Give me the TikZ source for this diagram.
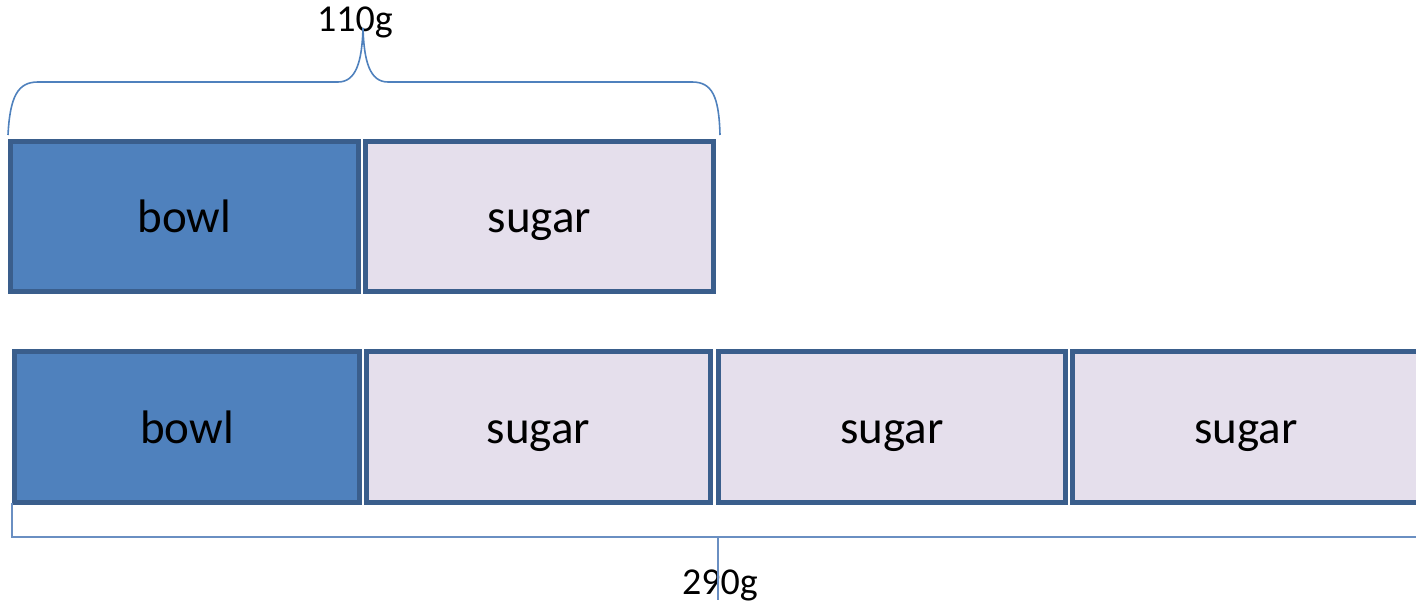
\documentclass[tikz,border=0pt]{standalone}
\usepackage{fontspec}
\setmainfont{Carlito}
\definecolor{edgeblue}{HTML}{3A5E8C}
\definecolor{bowlblue}{HTML}{4F81BD}
\definecolor{sugarlav}{HTML}{E5DFEC}
\definecolor{bracketblue}{HTML}{6A8FC2}
\tikzset{
  part/.style={draw=edgeblue, line width=5pt, inner sep=0pt, outer sep=0pt,
    minimum height=#1, text height=35pt, text depth=2pt,
    font=\fontsize{47}{56}\selectfont},
  bowlpart/.style={part=#1, fill=bowlblue},
  sugarpart/.style={part=#1, fill=sugarlav},
  total/.style={font=\fontsize{38}{46}\selectfont, inner sep=0pt},
  bracebar/.style={draw=bowlblue, line width=1.6pt},
  basebar/.style={draw=bracketblue, line width=2.4pt},
}
\begin{document}
\begin{tikzpicture}[x=1pt, y=-1pt]
  \useasboundingbox (0,0) rectangle (1416,604);
  \clip (0,0) rectangle (1416,604);

  % first bar: bowl plus one sugar
  \node[bowlpart=150pt, minimum width=348pt] (b1) at (184.5,216.5) {bowl};
  \node[sugarpart=150pt, minimum width=348pt] (s1) at (539.5,216.5) {sugar};

  % second bar: bowl plus three sugars
  \node[bowlpart=151pt, minimum width=345pt] (b2) at (187,427) {bowl};
  \node[sugarpart=151pt, minimum width=344pt] (s2) at (538.5,427) {sugar};
  \node[sugarpart=151pt, minimum width=347pt] (s3) at (892,427) {sugar};
  \node[sugarpart=151pt, minimum width=347pt] (s4) at (1246,427) {sugar};

  % totals
  \node[total] (t1) at (355,22) {110g};
  \node[total] (t2) at (720,585) {290g};

  % curly brace over the first bar
  \coordinate (bl) at (8,135);
  \coordinate (br) at (720,135);
  \coordinate (tip) at (363,28);
  \draw[bracebar] (bl) .. controls (10,96) and (18,82) .. (38,82)
    -- (338,82) .. controls (356,82) and (362,62) .. (tip)
    .. controls (364,62) and (370,82) .. (388,82)
    -- (692,82) .. controls (712,82) and (719,96) .. (br);

  % bracket under the second bar
  \coordinate (ql) at (12,503);
  \coordinate (qc) at (12,537);
  \coordinate (qr) at (1420,537);
  \coordinate (qm) at (718,537);
  \coordinate (qt) at (718,600);
  \draw[basebar] (ql) -- (qc) -- (qr);
  \draw[basebar] (qm) -- (qt);
\end{tikzpicture}
\end{document}
